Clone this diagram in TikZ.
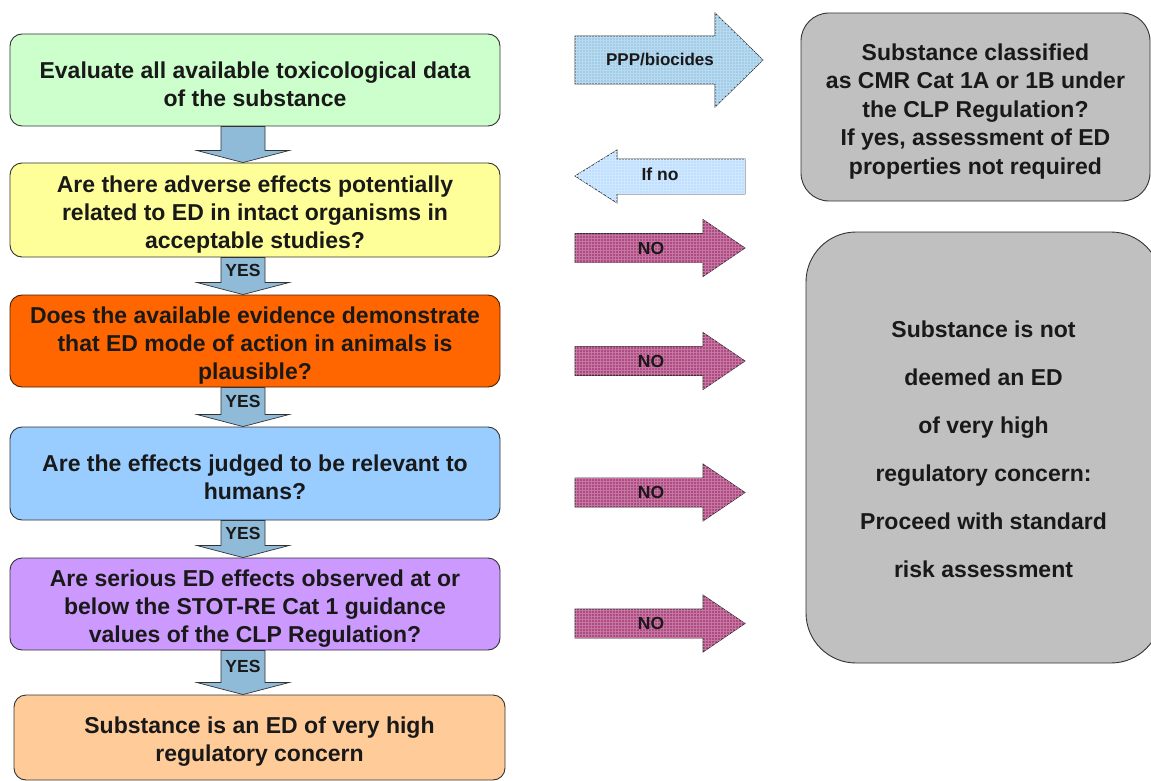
\documentclass[tikz,border=0pt]{standalone}
\usepackage{fontspec}
\setmainfont{Liberation Sans}
\usetikzlibrary{patterns,calc}
\definecolor{cgreen}{HTML}{CCFFCC}
\definecolor{cyellow}{HTML}{FFFF99}
\definecolor{corange}{HTML}{FF6600}
\definecolor{cblue}{HTML}{99CCFF}
\definecolor{cpurple}{HTML}{CC99FF}
\definecolor{cpeach}{HTML}{FFCC99}
\definecolor{cgray}{HTML}{C0C0C0}
\definecolor{cdown}{HTML}{8FBAD8}
\definecolor{cppp}{HTML}{A2CDE8}
\definecolor{cifno}{HTML}{BFDFFF}
\definecolor{cno}{HTML}{B04A82}
\definecolor{cline}{HTML}{333333}
\newcommand\mystrut[1]{\rule{0pt}{#1}}
\tikzset{
  box/.style={draw=cline, line width=0.9pt, rounded corners=12pt, minimum width=490pt,
    align=center, inner sep=2pt, font=\bfseries\fontsize{23}{28}\selectfont, text=black!90},
  graybox/.style={draw=cline, line width=0.9pt, fill=cgray, align=center,
    font=\bfseries\fontsize{23}{28.5}\selectfont, text=black!90},
  darr/.style={draw=cline, line width=0.7pt, fill=cdown},
  barr/.style={draw=cline, line width=0.7pt},
  gridfill/.style={postaction={pattern=grid, pattern color=#1!75!white}},
  lab/.style={font=\bfseries\fontsize{17.5}{20}\selectfont, text=black!90, inner sep=0pt},
}
\begin{document}
\begin{tikzpicture}[x=1pt,y=-1pt]
\useasboundingbox (0,0) rectangle (1151,781);
\fill[white] (0,0) rectangle (1151,781);

% left column boxes
\node[box, fill=cgreen, minimum height=92pt] (b1) at (255,80)
  {\mystrut{25pt}Evaluate all available toxicological data\\of the substance};
\node[box, fill=cyellow, minimum height=94pt] (b2) at (255,210)
  {\mystrut{25pt}Are there adverse effects potentially\\related to ED in intact organisms in\\acceptable studies?};
\node[box, fill=corange, draw=black!70!corange, minimum height=92pt] (b3) at (255,341)
  {\mystrut{25pt}Does the available evidence demonstrate\\that ED mode of action in animals is\\plausible?};
\node[box, fill=cblue, minimum height=93pt] (b4) at (255,473.5)
  {\mystrut{25pt}Are the effects judged to be relevant to\\humans?};
\node[box, fill=cpurple, minimum height=92pt] (b5) at (255,604)
  {\mystrut{25pt}Are serious ED effects observed at or\\below the STOT-RE Cat 1 guidance\\values of the CLP Regulation?};
\node[box, fill=cpeach, minimum height=85pt, minimum width=491pt] (b6) at (259.5,737.5)
  {\mystrut{25pt}Substance is an ED of very high\\regulatory concern};

% right grey boxes
\node[graybox, rounded corners=28pt, minimum width=349pt, minimum height=188pt] (g1) at (975.5,107)
  {\mystrut{25pt}Substance classified\\as CMR Cat 1A or 1B under\\the CLP Regulation?\\If yes, assessment of ED\\properties not required};
\node[graybox, rounded corners=50pt, minimum width=355pt, minimum height=431pt,
  font=\bfseries\fontsize{23}{48}\selectfont] (g2) at (983.5,447.5)
  {\mystrut{21pt}Substance is not\\deemed an ED\\of very high\\regulatory concern:\\Proceed with standard\\risk assessment};

% down arrows between boxes
\coordinate (ax) at (243,0);
\foreach \u/\v/\t in {b1/b2/, b2/b3/YES, b3/b4/YES, b4/b5/YES, b5/b6/YES}{
  \draw[darr] let \p1=(\u.south -| ax), \p2=(\v.north -| ax) in
    (\x1-22pt,\y1) -- (\x1+22pt,\y1) -- (\x1+22pt,\y2+12pt) -- (\x1+46pt,\y2+12pt)
    -- (\x1,\y2) -- (\x1-46pt,\y2+12pt) -- (\x1-22pt,\y2+12pt) -- cycle;
  \path let \p1=(\u.south -| ax), \p2=(\v.north -| ax) in
    node[lab] (y\u) at (\x1,{(\y1+\y2+12pt)/2}) {\t};
}

% PPP/biocides arrow
\coordinate (cppp) at (660,60);
\path[barr, fill=cppp, gridfill=cppp] ($(cppp)+(-85,-24)$) -- ++(140,0) -- ++(0,-23) -- ++(48,47)
  -- ++(-48,47) -- ++(0,-23) -- ++(-140,0) -- cycle;
\node[lab, font=\bfseries\fontsize{17}{20}\selectfont] (lppp) at (cppp) {PPP/biocides};

% If no arrow
\coordinate (cifn) at (660,174);
\path[barr, fill=cifno, gridfill=cifno] ($(cifn)+(85,-15)$) -- ++(-128,0) -- ++(0,-9)
  -- ++(-42,26) -- ++(42,27) -- ++(0,-9) -- ++(128,0) -- cycle;
\node[lab] (lifno) at (cifn) {If no};

% NO arrows
\foreach \n/\yy in {1/248, 2/361, 3/492.5, 4/623.5}{
  \coordinate (cno\n) at (651,\yy);
  \path[barr, fill=cno, gridfill=cno] ($(cno\n)+(-76,-14.5)$) -- ++(128,0) -- ++(0,-14)
    -- ++(42,28.5) -- ++(-42,28.5) -- ++(0,-14) -- ++(-128,0) -- cycle;
  \node[lab] (lno\n) at (cno\n) {NO};
}
\end{tikzpicture}
\end{document}
